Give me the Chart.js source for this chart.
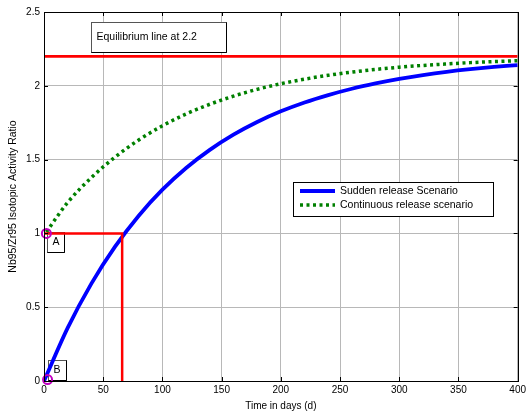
<!DOCTYPE html>
<html>
<head>
<meta charset="utf-8">
<script src="https://cdn.jsdelivr.net/npm/chart.js@4.4.0/dist/chart.umd.min.js"></script>
<style>
  html, body { margin: 0; padding: 0; background: #fff; }
  #wrap { width: 529px; height: 414px; position: relative; }
</style>
</head>
<body>
<div id="wrap"><canvas id="c"></canvas></div>
<script>
// values
const suddenDays = [0, 20, 40, 60, 80, 100, 120, 140, 160, 180, 200, 220, 240, 260, 280, 300, 320, 340, 360, 380, 400];
const suddenRatio = [0, 0.36, 0.66, 0.91, 1.12, 1.296, 1.443, 1.566, 1.669, 1.755, 1.827, 1.887, 1.937, 1.98, 2.016, 2.047, 2.073, 2.095, 2.113, 2.128, 2.14];
const contDays = [2, 20, 40, 60, 80, 100, 120, 140, 160, 180, 200, 220, 240, 260, 280, 300, 320, 340, 360, 380, 400];
const contRatio = [1.01, 1.21, 1.378, 1.517, 1.633, 1.729, 1.809, 1.875, 1.93, 1.976, 2.014, 2.045, 2.071, 2.093, 2.111, 2.126, 2.138, 2.148, 2.157, 2.164, 2.17];
const equilDays = [0, 400];
const equilRatio = [2.2, 2.2];
const guideDays = [0, 66, 66];
const guideRatio = [1, 1, 0];
const markDays = [2, 3];
const markRatio = [1, 0.01];
const markLabels = ['A', 'B'];
const legendLabels = ['Sudden release Scenario', 'Continuous release scenario'];
const noteText = 'Equilibrium line at 2.2';

const pts = (xs, ys) => xs.map((x, i) => ({x: x, y: ys[i]}));
const FONT = '"Liberation Sans", Arial, sans-serif';

// text boxes sit under the curves
const notes = {
  id: 'notes',
  beforeDatasetsDraw(chart) {
    const {ctx, scales: {x, y}} = chart;
    ctx.save();
    ctx.lineWidth = 1;
    const box = (x0, y0, x1, y1, txt, tx) => {
      const l = Math.round(x.getPixelForValue(x0)) + 0.5, r = Math.round(x.getPixelForValue(x1)) + 0.5;
      const t = Math.round(y.getPixelForValue(y0)) + 0.5, b = Math.round(y.getPixelForValue(y1)) + 0.5;
      ctx.fillStyle = '#fff';
      ctx.fillRect(l, t, r - l, b - t);
      ctx.strokeStyle = '#555';
      ctx.strokeRect(l, t, r - l, b - t);
      ctx.strokeStyle = '#000';
      ctx.beginPath(); ctx.moveTo(r, t); ctx.lineTo(r, b); ctx.lineTo(l, b); ctx.stroke();
      ctx.fillStyle = '#000';
      ctx.font = '10.5px ' + FONT;
      ctx.textBaseline = 'middle';
      ctx.textAlign = 'left';
      ctx.fillText(txt, l + tx, (t + b) / 2);
    };
    box(40, 2.435, 153.5, 2.232, noteText, 5);
    box(2.2, 1.01, 16.8, 0.877, markLabels[0], 5);
    box(3.4, 0.14, 18.5, 0.005, markLabels[1], 5);
    ctx.restore();
  }
};

const decor = {
  id: 'decor',
  afterDatasetsDraw(chart) {
    const {ctx, chartArea: a, scales: {x, y}} = chart;
    ctx.save();
    // inside ticks
    ctx.strokeStyle = '#000';
    ctx.lineWidth = 1;
    ctx.beginPath();
    x.ticks.forEach(t => {
      const px = Math.round(x.getPixelForValue(t.value)) + 0.5;
      ctx.moveTo(px, a.bottom); ctx.lineTo(px, a.bottom - 4);
      ctx.moveTo(px, a.top); ctx.lineTo(px, a.top + 4);
    });
    y.ticks.forEach(t => {
      const py = Math.round(y.getPixelForValue(t.value)) + 0.5;
      ctx.moveTo(a.left, py); ctx.lineTo(a.left + 4, py);
      ctx.moveTo(a.right, py); ctx.lineTo(a.right - 4, py);
    });
    ctx.stroke();
    ctx.strokeRect(Math.round(a.left) + 0.5, Math.round(a.top) + 0.5, Math.round(a.right - a.left), Math.round(a.bottom - a.top));

    // legend
    const lx = 293, ly = 182, lw = 200, lh = 34;
    ctx.fillStyle = '#fff';
    ctx.fillRect(lx + 0.5, ly + 0.5, lw, lh);
    ctx.strokeStyle = '#000';
    ctx.strokeRect(lx + 0.5, ly + 0.5, lw, lh);
    const ds = chart.data.datasets;
    [0, 1].forEach(i => {
      const yy = ly + 9 + i * 14;
      ctx.strokeStyle = ds[i].borderColor;
      ctx.lineWidth = ds[i].borderWidth;
      ctx.lineCap = 'butt';
      ctx.setLineDash(ds[i].borderDash || []);
      ctx.beginPath(); ctx.moveTo(lx + 7, yy); ctx.lineTo(lx + 42, yy); ctx.stroke();
      ctx.setLineDash([]);
      ctx.fillStyle = '#000';
      ctx.font = '10.5px ' + FONT;
      ctx.textBaseline = 'middle';
      ctx.fillText(legendLabels[i], lx + 47, yy);
    });
    ctx.restore();
  }
};

new Chart(document.getElementById('c'), {
  type: 'line',
  data: {
    datasets: [
      {label: legendLabels[0], data: pts(suddenDays, suddenRatio), borderColor: '#0000ff', borderWidth: 3.8,
       pointRadius: 0, cubicInterpolationMode: 'monotone', order: 3},
      {label: legendLabels[1], data: pts(contDays, contRatio), borderColor: '#008000', borderWidth: 3.5,
       borderDash: [3, 3.5], borderCapStyle: 'butt', pointRadius: 0, cubicInterpolationMode: 'monotone', order: 4},
      {label: 'equilibrium', data: pts(equilDays, equilRatio), borderColor: '#ff0000', borderWidth: 2.8, pointRadius: 0, order: 5},
      {label: 'guide', data: pts(guideDays, guideRatio), borderColor: '#ff0000', borderWidth: 2.5, pointRadius: 0, tension: 0, order: 2},
      {label: 'marks', data: pts(markDays, markRatio), showLine: false, clip: 10, pointStyle: 'circle', pointRadius: 4.5,
       pointBorderWidth: 2, pointBorderColor: '#c000c0', pointBackgroundColor: 'rgba(0,0,0,0)', order: 1}
    ]
  },
  options: {
    responsive: true,
    maintainAspectRatio: false,
    devicePixelRatio: 1,
    animation: false,
    layout: {padding: {top: 12, right: 8, left: 0, bottom: 0}},
    plugins: {legend: {display: false}, tooltip: {enabled: false}},
    scales: {
      x: {
        type: 'linear', min: 0, max: 400,
        ticks: {stepSize: 50, color: '#000', padding: 3, font: {family: FONT, size: 10}},
        grid: {color: '#b8b8b8', drawTicks: false},
        border: {display: false},
        title: {display: true, text: 'Time in days (d)', color: '#000', font: {family: FONT, size: 10}, padding: {top: 0, bottom: 2}},
        afterFit(s) { s.height = 33; }
      },
      y: {
        min: 0, max: 2.5,
        ticks: {stepSize: 0.5, color: '#000', padding: 4, font: {family: FONT, size: 10},
                callback: v => String(v)},
        grid: {color: '#b8b8b8', drawTicks: false},
        border: {display: false},
        title: {display: true, text: 'Nb95/Zr95 Isotopic Activity Ratio', color: '#000', font: {family: FONT, size: 10.5}, padding: {top: 7, bottom: 0}},
        afterFit(s) { s.width = 44; }
      }
    }
  },
  plugins: [notes, decor]
});
</script>
</body>
</html>
